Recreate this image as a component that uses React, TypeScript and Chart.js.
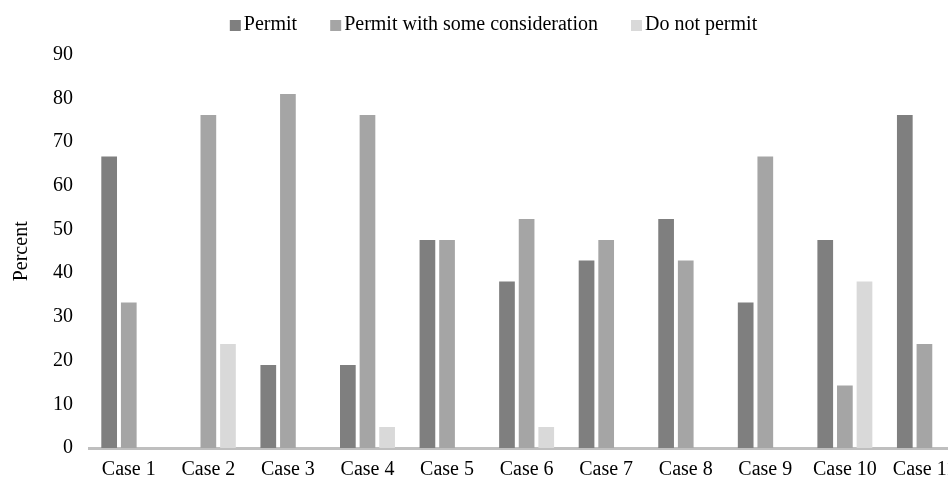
import React, { useEffect, useRef } from "react";
import { Chart, registerables } from "chart.js";

Chart.register(...registerables);

const categories = ["Case 1", "Case 2", "Case 3", "Case 4", "Case 5", "Case 6", "Case 7", "Case 8", "Case 9", "Case 10", "Case 11"];
const permit = [66.7, 0, 19.0, 19.0, 47.6, 38.1, 42.9, 52.4, 33.3, 47.6, 76.2];
const permitConsideration = [33.3, 76.2, 81.0, 76.2, 47.6, 52.4, 47.6, 42.9, 66.7, 14.3, 23.8];
const doNotPermit = [0, 23.8, 0, 4.8, 0, 4.8, 0, 0, 0, 38.1, 0];
const seriesNames = ["Permit", "Permit with some consideration", "Do not permit"];
const seriesColors = ["#7f7f7f", "#a5a5a5", "#d9d9d9"];

function makeSwatch(color: string): HTMLCanvasElement {
  const c = document.createElement("canvas");
  c.width = 40;
  c.height = 11;
  const ctx = c.getContext("2d")!;
  ctx.fillStyle = color;
  ctx.fillRect(17, 0, 11, 11);
  return c;
}

const legendShift = {
  id: "legendShift",
  afterLayout(chart: any) {
    if (chart.legend) {
      chart.legend.left += 8;
      chart.legend.right += 8;
    }
  },
};

export default function App() {
  const ref = useRef<HTMLCanvasElement | null>(null);
  useEffect(() => {
    if (!ref.current) return;
    const family = "'Liberation Serif', 'Times New Roman', serif";
    const font = { family, size: 20 };
    const swatches = seriesColors.map(makeSwatch);
    const defaultGen = (Chart.defaults.plugins.legend.labels as any).generateLabels;
    const chart = new Chart(ref.current, {
      type: "bar",
      data: {
        labels: categories,
        datasets: [
          { label: seriesNames[0], data: permit, backgroundColor: seriesColors[0] },
          { label: seriesNames[1], data: permitConsideration, backgroundColor: seriesColors[1] },
          { label: seriesNames[2], data: doNotPermit, backgroundColor: seriesColors[2] },
        ],
      },
      options: {
        responsive: false,
        animation: false,
        devicePixelRatio: 1,
        layout: { padding: { top: -20, left: 7, right: 0, bottom: -14 } },
        datasets: { bar: { categoryPercentage: 0.74, barPercentage: 0.8 } },
        plugins: {
          legend: {
            position: "top",
            weight: 3000,
            labels: {
              font,
              color: "#000",
              usePointStyle: true,
              boxWidth: 2,
              boxHeight: 11,
              padding: 35,
              generateLabels: (c: any) =>
                defaultGen(c).map((item: any, i: number) => ({ ...item, pointStyle: swatches[item.datasetIndex ?? i] })),
            },
          } as any,
          title: {
            display: true,
            text: " ",
            weight: 2000,
            font: { family, size: 8 },
            padding: 0,
          } as any,
          tooltip: { enabled: false },
        },
        scales: {
          x: {
            grid: { display: false, drawTicks: false },
            border: { display: true, color: "#bfbfbf", width: 3 },
            ticks: { font, color: "#000", padding: 10, maxRotation: 0, autoSkip: false },
          },
          y: {
            min: 0,
            max: 90,
            grid: { display: false, drawTicks: false },
            border: { display: false },
            ticks: { stepSize: 10, font, color: "#000", padding: 16 },
            title: { display: true, text: "Percent", font, color: "#000", padding: { top: 3, bottom: 3 } },
          },
        },
      },
      plugins: [legendShift],
    });
    return () => chart.destroy();
  }, []);
  return (
    <div style={{ position: "absolute", left: 0, top: 0, width: 948, height: 478, overflow: "hidden" }}>
      <canvas ref={ref} width={966} height={478} style={{ display: "block" }} />
    </div>
  );
}
